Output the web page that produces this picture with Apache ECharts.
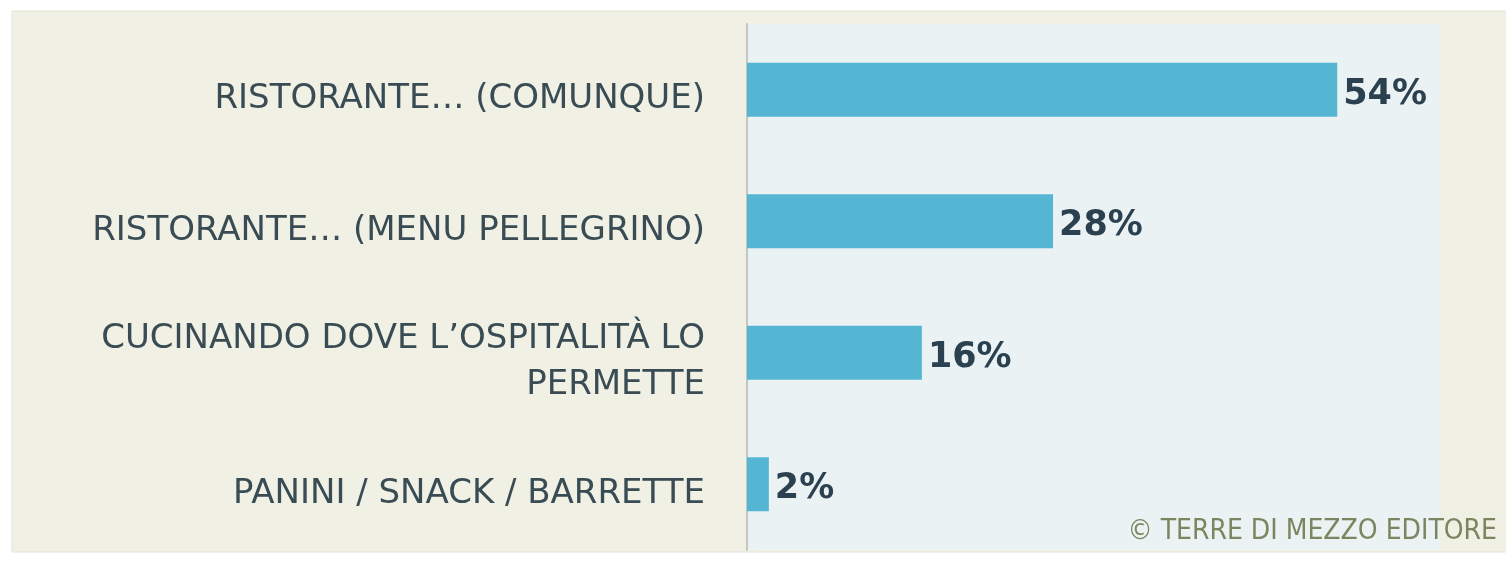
<!DOCTYPE html>
<html>
<head>
<meta charset="utf-8">
<script src="https://cdn.jsdelivr.net/npm/echarts@6/dist/echarts.min.js"></script>
<style>
html,body{margin:0;padding:0;background:#ffffff;}
#chart{width:1506px;height:563px;}
</style>
</head>
<body>
<div id="chart"></div>
<script>
const categories = [
  "RISTORANTE… (COMUNQUE)",
  "RISTORANTE… (MENU PELLEGRINO)",
  "CUCINANDO DOVE L’OSPITALITÀ LO\nPERMETTE",
  "PANINI / SNACK / BARRETTE"
];
const values = [54, 28, 16, 2];
const valueSuffix = "%";
const credit = "© TERRE DI MEZZO EDITORE";

const chart = echarts.init(document.getElementById('chart'));
chart.setOption({
  backgroundColor: '#ffffff',
  animation: false,
  graphic: [
    {
      type: 'rect', z: -10, silent: true,
      shape: { x: 12, y: 11, width: 1500, height: 541 },
      style: { fill: '#f0f0e5', stroke: '#e4e4da', lineWidth: 1 }
    },
    {
      type: 'text', right: 9, top: 518, z: 10,
      style: {
        text: credit,
        font: '28px "DejaVu Sans Condensed", "Liberation Sans Narrow", sans-serif',
        fill: '#7b8660'
      }
    }
  ],
  grid: {
    left: 747, top: 24, width: 693, height: 526,
    show: true, backgroundColor: '#ebf2f4', borderWidth: 0
  },
  xAxis: {
    type: 'value', min: 0, max: 63.4,
    show: false
  },
  yAxis: {
    type: 'category',
    data: categories,
    inverse: true,
    axisLine: { show: true, lineStyle: { color: '#c6c6c0', width: 2 } },
    axisTick: { show: false },
    axisLabel: {
      margin: 42,
      align: 'right',
      formatter: v => v.split('\n')
        .map((s, i) => (i === 0 ? '{s| }' : '') + '{a|' + s + '}')
        .join('\n'),
      rich: {
        a: {
          color: '#394c54',
          fontFamily: '"DejaVu Sans", sans-serif',
          fontSize: 34,
          lineHeight: 46,
          verticalAlign: 'bottom'
        },
        s: { fontSize: 1, lineHeight: 53, width: 0 }
      }
    }
  },
  series: [{
    type: 'bar',
    data: values,
    barWidth: 54,
    itemStyle: { color: '#55b6d3' },
    label: {
      show: true,
      position: 'right',
      distance: 6,
      offset: [0, 5],
      formatter: p => p.value + valueSuffix,
      color: '#2b4150',
      fontFamily: '"DejaVu Sans", sans-serif',
      fontWeight: 'bold',
      fontSize: 35
    }
  }]
});
</script>
</body>
</html>
